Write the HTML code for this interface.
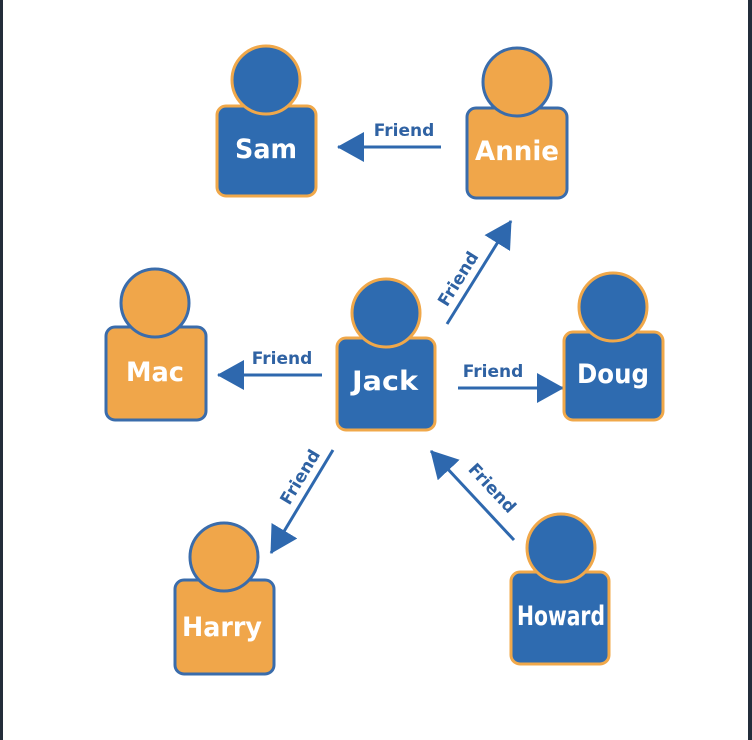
<!DOCTYPE html>
<html><head><meta charset="utf-8"><style>
html,body{margin:0;padding:0;background:#fff;}
body{width:752px;height:740px;overflow:hidden;position:relative;}
.bl{position:absolute;left:0;top:0;width:3px;height:740px;background:#232d3a;}
.br{position:absolute;right:0;top:0;width:4px;height:740px;background:#232d3a;}
svg{position:absolute;left:0;top:0;}
text{font-family:"DejaVu Sans","Liberation Sans",sans-serif;font-weight:bold;}
.n{fill:#fff;font-size:27px;text-anchor:middle;}
.f{fill:#2f62a3;font-size:17px;text-anchor:middle;}
</style></head><body>
<div class="bl"></div><div class="br"></div>
<svg width="752" height="740" viewBox="0 0 752 740">
<defs>
<marker id="a" markerUnits="userSpaceOnUse" markerWidth="28" markerHeight="30" refX="26" refY="15" orient="auto">
<path d="M0,0 L27,15 L0,30 Z" fill="#2e68ae"/>
</marker>
</defs>
<g stroke="#2e68ae" stroke-width="3" fill="none" marker-end="url(#a)">
<line x1="441" y1="147" x2="338" y2="147"/>
<line x1="322" y1="375" x2="218" y2="375"/>
<line x1="458" y1="388" x2="563" y2="388"/>
<line x1="447" y1="324" x2="511" y2="221"/>
<line x1="333" y1="450" x2="271" y2="553"/>
<line x1="514" y1="540" x2="431" y2="451"/>
</g>
<text class="f" x="404" y="136">Friend</text>
<text class="f" x="282" y="364">Friend</text>
<text class="f" x="493" y="377">Friend</text>
<text class="f" transform="translate(463,282) rotate(-58)">Friend</text>
<text class="f" transform="translate(305,480) rotate(-59)">Friend</text>
<text class="f" transform="translate(488,492) rotate(47)">Friend</text>
<g stroke-width="3">
<rect x="217" y="106" width="99" height="90" rx="9" fill="#2e6bb0" stroke="#f0a84a"/>
<circle cx="266" cy="80" r="34" fill="#2e6bb0" stroke="#f0a84a"/>
<rect x="467" y="108" width="100" height="90" rx="9" fill="#f0a64a" stroke="#3a6cab"/>
<circle cx="517" cy="82" r="34" fill="#f0a64a" stroke="#3a6cab"/>
<rect x="106" y="327" width="100" height="93" rx="9" fill="#f0a64a" stroke="#3a6cab"/>
<circle cx="155" cy="303" r="34" fill="#f0a64a" stroke="#3a6cab"/>
<rect x="337" y="338" width="98" height="92" rx="9" fill="#2e6bb0" stroke="#f0a84a"/>
<circle cx="386" cy="313" r="34" fill="#2e6bb0" stroke="#f0a84a"/>
<rect x="564" y="332" width="99" height="88" rx="9" fill="#2e6bb0" stroke="#f0a84a"/>
<circle cx="613" cy="307" r="34" fill="#2e6bb0" stroke="#f0a84a"/>
<rect x="175" y="580" width="99" height="94" rx="9" fill="#f0a64a" stroke="#3a6cab"/>
<circle cx="224" cy="557" r="34" fill="#f0a64a" stroke="#3a6cab"/>
<rect x="511" y="572" width="98" height="92" rx="9" fill="#2e6bb0" stroke="#f0a84a"/>
<circle cx="561" cy="548" r="34" fill="#2e6bb0" stroke="#f0a84a"/>
</g>
<text class="n" x="266" y="158" textLength="62" lengthAdjust="spacingAndGlyphs">Sam</text>
<text class="n" x="517" y="160" textLength="84" lengthAdjust="spacingAndGlyphs">Annie</text>
<text class="n" x="155" y="381" textLength="58" lengthAdjust="spacingAndGlyphs">Mac</text>
<text class="n" x="385" y="390" textLength="66" lengthAdjust="spacingAndGlyphs">Jack</text>
<text class="n" x="613" y="383" textLength="72" lengthAdjust="spacingAndGlyphs">Doug</text>
<text class="n" x="222" y="636" textLength="80" lengthAdjust="spacingAndGlyphs">Harry</text>
<text class="n" x="561" y="625" textLength="88" lengthAdjust="spacingAndGlyphs">Howard</text>
</svg>
</body></html>
